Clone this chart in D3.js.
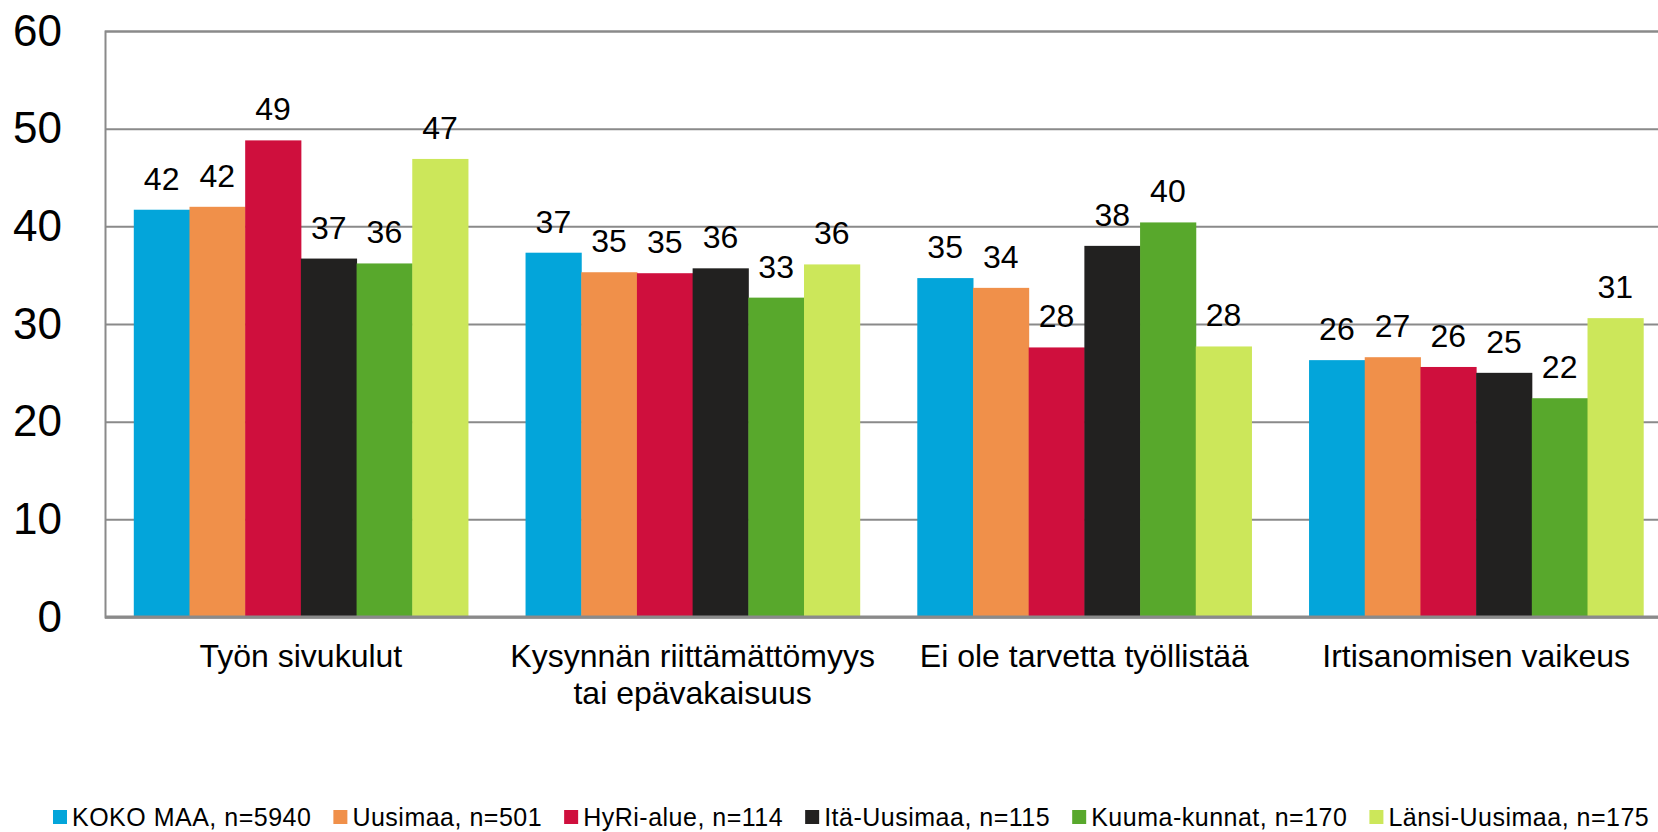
<!DOCTYPE html>
<html lang="en">
<head>
<meta charset="utf-8">
<title>Bar chart</title>
<script src="https://cdn.jsdelivr.net/npm/d3@7/dist/d3.min.js"></script>
<style>
  body { margin: 0; background: #fff; font-family: "Liberation Sans", Arial, sans-serif; }
  svg { display: block; }
</style>
</head>
<body>
<script>
// data
var categories = ["Työn sivukulut", "Kysynnän riittämättömyys|tai epävakaisuus", "Ei ole tarvetta työllistää", "Irtisanomisen vaikeus"];
var seriesNames = ["KOKO MAA, n=5940", "Uusimaa, n=501", "HyRi-alue, n=114", "Itä-Uusimaa, n=115", "Kuuma-kunnat, n=170", "Länsi-Uusimaa, n=175"];
var seriesColors = ["#03a5da", "#f0904a", "#cf0f3d", "#222120", "#58a82c", "#cce75a"];
var kokoMaa   = [41.7, 37.3, 34.7, 26.3];
var uusimaa   = [42.0, 35.3, 33.7, 26.6];
var hyri      = [48.8, 35.2, 27.6, 25.6];
var itaUus    = [36.7, 35.7, 38.0, 25.0];
var kuuma     = [36.2, 32.7, 40.4, 22.4];
var lansiUus  = [46.9, 36.1, 27.7, 30.6];
var valueLabels = [
  [42, 37, 35, 26],
  [42, 35, 34, 27],
  [49, 35, 28, 26],
  [37, 36, 38, 25],
  [36, 33, 40, 22],
  [47, 36, 28, 31]
];
var yTicks = [0, 10, 20, 30, 40, 50, 60];

var series = [kokoMaa, uusimaa, hyri, itaUus, kuuma, lansiUus];

var w = 1658, h = 832;
var plotLeft = 105, plotTop = 31, plotBottom = 617;

var svg = d3.select("body").append("svg").attr("width", w).attr("height", h);

var y = d3.scaleLinear().domain([0, 60]).range([plotBottom, plotTop]);
var x0 = d3.scaleBand().domain(d3.range(categories.length))
  .range([plotLeft, 1672]).paddingInner(0.147).paddingOuter(0.0735);
var x1 = d3.scaleBand().domain(d3.range(series.length)).range([0, x0.bandwidth()]);

// y axis with gridlines
var yAxis = d3.axisLeft(y).tickValues(yTicks).tickSize(-(w - plotLeft)).tickPadding(43);
var gy = svg.append("g").attr("transform", "translate(" + plotLeft + ",0)").call(yAxis);
gy.select(".domain").attr("stroke", "#8a8a8a").attr("stroke-width", 2);
gy.selectAll(".tick line").attr("stroke", "#8a8a8a").attr("stroke-width", 2);
gy.selectAll(".tick text").attr("font-size", 44).attr("fill", "#000")
  .attr("font-family", "Liberation Sans, Arial, sans-serif");

// bars
series.forEach(function(vals, si) {
  svg.append("g").selectAll("rect")
    .data(vals)
    .enter()
    .append("rect")
    .attr("x", function(d, ci) { return x0(ci) + x1(si); })
    .attr("y", function(d) { return y(d); })
    .attr("width", x1.bandwidth() + 0.5)
    .attr("height", function(d) { return y(0) - y(d); })
    .attr("fill", seriesColors[si]);

  svg.append("g").selectAll("text")
    .data(vals)
    .enter()
    .append("text")
    .attr("x", function(d, ci) { return x0(ci) + x1(si) + x1.bandwidth() / 2; })
    .attr("y", function(d) { return y(d) - 20; })
    .attr("text-anchor", "middle")
    .attr("font-size", 32)
    .attr("fill", "#000")
    .text(function(d, ci) { return valueLabels[si][ci]; });
});

// baseline
var xAxis = d3.axisBottom(x0).tickSize(0).tickFormat("");
var gx = svg.append("g").attr("transform", "translate(0," + plotBottom + ")").call(xAxis);
gx.select(".domain").attr("stroke", "#8a8a8a").attr("stroke-width", 3)
  .attr("d", "M" + plotLeft + ",0H" + w);

// category labels
categories.forEach(function(c, ci) {
  var t = svg.append("text")
    .attr("x", x0(ci) + x0.bandwidth() / 2)
    .attr("y", 667)
    .attr("text-anchor", "middle")
    .attr("font-size", 32)
    .attr("fill", "#000");
  c.split("|").forEach(function(line, li) {
    t.append("tspan")
      .attr("x", x0(ci) + x0.bandwidth() / 2)
      .attr("dy", li === 0 ? 0 : 37)
      .text(line);
  });
});

// legend
var lx = 53, ly = 817;
seriesNames.forEach(function(name, si) {
  svg.append("rect")
    .attr("x", lx).attr("y", ly - 7)
    .attr("width", 14).attr("height", 14)
    .attr("fill", seriesColors[si]);
  var t = svg.append("text")
    .attr("x", lx + 19).attr("y", ly + 9)
    .attr("font-size", 25)
    .attr("letter-spacing", 0.5)
    .attr("fill", "#000")
    .text(name);
  lx = lx + 19 + t.node().getComputedTextLength() + 22;
});
</script>
</body>
</html>
